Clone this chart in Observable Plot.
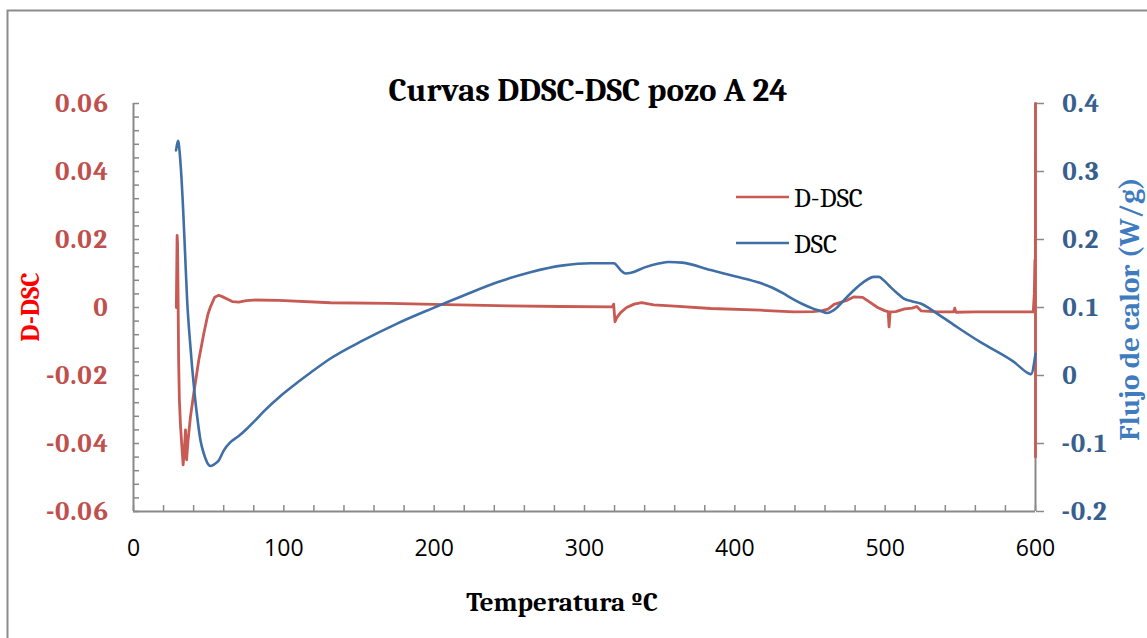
<!DOCTYPE html>
<html><head><meta charset="utf-8">
<script src="https://cdn.jsdelivr.net/npm/d3@7"></script>
<script src="https://cdn.jsdelivr.net/npm/@observablehq/plot@0.6"></script>
<style>
body{margin:0;background:#fff}
#wrap{position:relative;width:1147px;height:638px;overflow:hidden;background:#fff}
#wrap > svg{position:absolute;left:0;top:0}
</style></head><body><div id="wrap"></div>
<script>
// D-DSC series (left axis)
const ddscT = [28.5, 29.0, 29.3, 29.6, 30.0, 30.5, 31.3, 32.2, 33.0, 33.8, 34.6, 35.3, 36.3, 37.9, 40.1, 43.4, 46.8, 49.5, 51.2, 54.0, 56.7, 59.0, 62.3, 66.0, 70.0, 75.0, 80.0, 96.7, 131, 170, 200, 250, 284, 318.5, 319.4, 320.3, 321.5, 324, 328, 333, 338, 346, 360, 384, 417, 439, 452, 458, 462, 466, 474, 479, 485, 490, 495, 500, 502, 502.6, 503.3, 507, 513, 518, 521, 524, 535, 545.5, 546.3, 547, 560, 580, 598.5, 599.2, 599.6, 599.9, 600, 600];
const ddscV = [0.0000, 0.0212, 0.0190, 0.0060, -0.0150, -0.0270, -0.0350, -0.0410, -0.0463, -0.0420, -0.0360, -0.0448, -0.0390, -0.0321, -0.0252, -0.0155, -0.0076, -0.0020, 0.0002, 0.0030, 0.0036, 0.0032, 0.0025, 0.0017, 0.0016, 0.0020, 0.0022, 0.0021, 0.0014, 0.0012, 0.0009, 0.0005, 0.0003, 0.0002, 0.0010, -0.0042, -0.0030, -0.0015, 0.0000, 0.0010, 0.0014, 0.0008, 0.0004, -0.0003, -0.0008, -0.0013, -0.0012, -0.0009, -0.0005, 0.0009, 0.0020, 0.0031, 0.0030, 0.0015, 0.0000, -0.0010, -0.0012, -0.0057, -0.0013, -0.0012, -0.0004, -0.0002, 0.0003, -0.0010, -0.0013, -0.0013, -0.0002, -0.0014, -0.0013, -0.0013, -0.0013, 0.0040, 0.0139, 0.0100, 0.0600, -0.0440];
// DSC series (right axis, W/g)
const dscT = [28.3, 29.0, 29.8, 30.5, 31.5, 33.0, 34.3, 35.7, 37.3, 39.0, 40.7, 42.4, 44.6, 46.8, 49.0, 51.2, 53.4, 56.7, 60.1, 64.5, 70.0, 75.6, 81.0, 87.0, 97.8, 108, 117.7, 131, 153, 175, 198, 220, 242, 264, 286, 304, 319.5, 321, 324, 327.3, 331, 340, 350, 356, 365, 384, 400, 417, 425, 432, 439, 446, 452.5, 457, 461.4, 465, 468, 474, 479, 486, 492.5, 496, 499, 503.6, 508, 512.4, 518, 523.5, 534.6, 548, 563.4, 585.6, 595.6, 597, 600];
const dscV = [0.331, 0.340, 0.345, 0.333, 0.305, 0.245, 0.180, 0.110, 0.058, 0.012, -0.028, -0.061, -0.096, -0.115, -0.128, -0.133, -0.131, -0.125, -0.110, -0.098, -0.089, -0.078, -0.066, -0.052, -0.030, -0.012, 0.004, 0.025, 0.052, 0.076, 0.098, 0.118, 0.137, 0.152, 0.162, 0.165, 0.165, 0.163, 0.155, 0.150, 0.151, 0.159, 0.165, 0.167, 0.166, 0.155, 0.146, 0.136, 0.129, 0.121, 0.112, 0.104, 0.098, 0.095, 0.092, 0.095, 0.100, 0.114, 0.125, 0.138, 0.145, 0.145, 0.140, 0.130, 0.121, 0.113, 0.109, 0.106, 0.091, 0.071, 0.049, 0.020, 0.003, 0.002, 0.032];

const xTicks = [0, 100, 200, 300, 400, 500, 600];
const xTickLabels = ["0", "100", "200", "300", "400", "500", "600"];
const leftTicks = [-0.06, -0.04, -0.02, 0, 0.02, 0.04, 0.06];
const leftTickLabels = ["-0.06", "-0.04", "-0.02", "0", "0.02", "0.04", "0.06"];
const rightTicks = [-0.2, -0.1, 0, 0.1, 0.2, 0.3, 0.4];
const rightTickLabels = ["-0.2", "-0.1", "0", "0.1", "0.2", "0.3", "0.4"];
const seriesNames = ["D-DSC", "DSC"];
const seriesColors = ["#c85a54", "#3f6fa6"];

// right axis domain [-0.2, 0.4] maps onto left domain [-0.06, 0.06]
const rightDomain = [-0.2, 0.4], leftDomain = [-0.06, 0.06];
const toLeft = v => leftDomain[0] + (v - rightDomain[0]) * (leftDomain[1] - leftDomain[0]) / (rightDomain[1] - rightDomain[0]);

const ddsc = ddscT.map((t, i) => ({t, v: ddscV[i]}));
const dsc = dscT.map((t, i) => ({t, v: toLeft(dscV[i])}));
const rightTicksL = rightTicks.map(toLeft);
const minorX = d3.range(0, 31).map(k => k * 20);
const minorY = d3.range(-15, 16).map(k => k * 0.004);
const lookup = (arr, labels) => d => labels[arr.findIndex(a => Math.abs(a - d) < 1e-9)];

const serif = "Cambria, 'Liberation Serif', serif";
const gray = "#898989";

const plot = Plot.plot({
  width: 1147, height: 638,
  marginLeft: 133, marginRight: 112, marginTop: 103, marginBottom: 127,
  x: {domain: [0, 600], label: null},
  y: {domain: leftDomain, label: null},
  style: {background: "transparent", overflow: "visible"},
  marks: [
    Plot.axisX(minorX, {tickSize: -6, tickFormat: () => "", stroke: gray, strokeWidth: 1.5, label: null}),
    Plot.axisX(xTicks, {tickSize: 0, tickPadding: 28, tickFormat: lookup(xTicks, xTickLabels), fontSize: 23, fontFamily: "'Open Sans', sans-serif", fill: "#000", label: null}),
    Plot.axisY(minorY, {anchor: "left", tickSize: -6, tickFormat: () => "", stroke: gray, strokeWidth: 1.5, label: null}),
    Plot.axisY(leftTicks, {anchor: "left", tickSize: 0, tickPadding: 25, tickFormat: lookup(leftTicks, leftTickLabels), fontSize: 27, fontWeight: "bold", fontFamily: serif, fill: "#c0504d", label: null}),
    Plot.axisY(rightTicksL, {anchor: "right", tickSize: 8, tickPadding: 18, tickFormat: lookup(rightTicksL, rightTickLabels), stroke: gray, strokeWidth: 1.5, fontSize: 27, fontWeight: "bold", fontFamily: serif, fill: "#38608f", label: null}),
    Plot.ruleX([0, 600], {stroke: gray, strokeWidth: 2}),
    Plot.ruleY([leftDomain[0]], {stroke: gray, strokeWidth: 2}),
    Plot.line(ddsc, {x: "t", y: "v", stroke: seriesColors[0], strokeWidth: 2.8, strokeLinejoin: "round"}),
    Plot.line(dsc, {x: "t", y: "v", stroke: seriesColors[1], strokeWidth: 2.6, strokeLinejoin: "round", curve: "monotone-x"})
  ]
});
const wrap = document.getElementById("wrap");
wrap.appendChild(plot);

// overlay: frame, title, axis titles, legend
const ov = d3.select(wrap).append("svg").attr("width", 1147).attr("height", 638).style("pointer-events", "none");
ov.append("rect").attr("x", 7.5).attr("y", 10.5).attr("width", 1300).attr("height", 800).attr("fill", "none").attr("stroke", "#8c8c8c").attr("stroke-width", 2);
ov.append("text").attr("x", 588).attr("y", 101).attr("text-anchor", "middle").attr("font-family", serif).attr("font-weight", "bold").attr("font-size", 33).attr("fill", "#000").text("Curvas DDSC-DSC pozo A 24");
ov.append("text").attr("x", 562).attr("y", 611).attr("text-anchor", "middle").attr("font-family", serif).attr("font-weight", "bold").attr("font-size", 27).attr("fill", "#000").text("Temperatura ºC");
ov.append("text").attr("transform", "translate(39,307) rotate(-90)").attr("text-anchor", "middle").attr("font-family", serif).attr("font-weight", "bold").attr("font-size", 26).attr("fill", "#ff0000").text("D-DSC");
ov.append("text").attr("transform", "translate(1139,309) rotate(-90)").attr("text-anchor", "middle").attr("font-family", serif).attr("font-weight", "bold").attr("font-size", 29).attr("fill", "#3f7cbf").text("Flujo de calor (W/g)");
const legY = [197, 243];
seriesNames.forEach((name, i) => {
  ov.append("line").attr("x1", 736).attr("x2", 789).attr("y1", legY[i]).attr("y2", legY[i]).attr("stroke", seriesColors[i]).attr("stroke-width", 2.6);
  ov.append("text").attr("x", 794).attr("y", legY[i] + 9.5).attr("font-family", serif).attr("font-size", 27).attr("fill", "#000").text(name);
});
</script></body></html>
